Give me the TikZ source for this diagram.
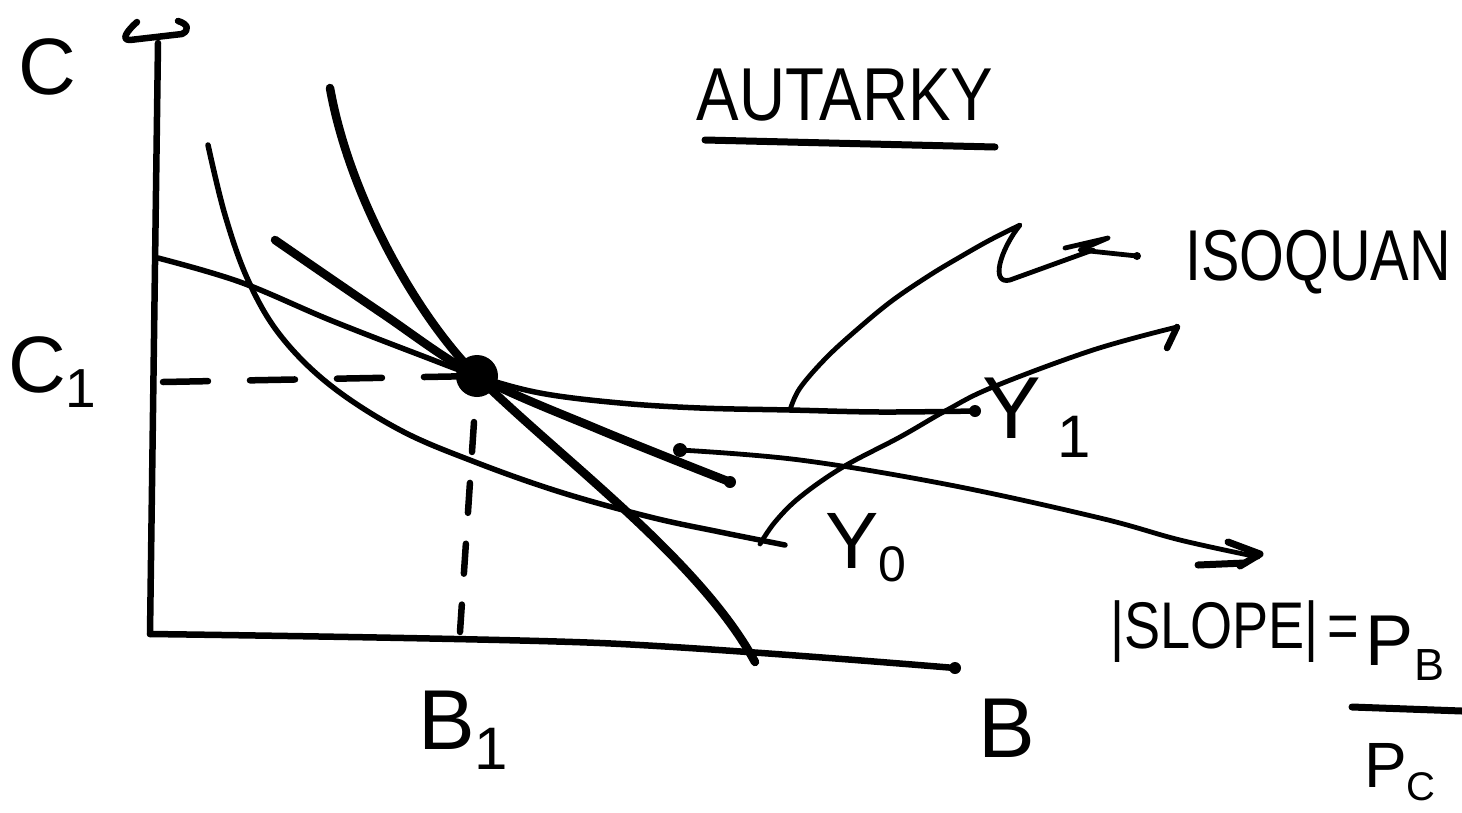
\documentclass[tikz,border=0pt]{standalone}
\usepackage{fontspec}
\setmainfont{Liberation Sans}
\begin{document}
\begin{tikzpicture}[x=1pt,y=-1pt,line cap=round,line join=round,
  axis/.style={line width=6.5pt},
  thincurve/.style={line width=5.5pt},
  thickcurve/.style={line width=8.5pt},
  pointer/.style={line width=4.8pt},
  dashline/.style={line width=6.5pt},
  lbl/.style={inner sep=0pt,font=\fontsize{80}{80}\selectfont}]
\useasboundingbox (0,0) rectangle (1462,812);

% key points
\coordinate (O) at (150,634);
\coordinate (Ctop) at (158,43);
\coordinate (Bend) at (955,668);
\coordinate (E) at (477,376);
\coordinate (Cdash) at (163,382);
\coordinate (Bdash) at (460,632);

% axes
\draw[axis] (O) -- (Ctop);
\draw[axis] (137,22) .. controls (128,30) and (120,40) .. (130,40) -- (182,34) .. controls (190,30) and (188,24) .. (178,21);
\draw[axis] plot[smooth] coordinates {(O) (600,643) (Bend)};
\fill (Bend) circle (6pt);

% dashed guides
\draw[dashline,dash pattern=on 45pt off 42pt] (Cdash) -- (E);
\draw[dashline,dash pattern=on 30pt off 31pt] (474,422) -- (Bdash);

% production possibility frontier
\draw[thickcurve] (330,88) .. controls (350,200) and (420,320) .. (E)
  .. controls (560,458) and (700,560) .. (755,662);

% isoquant Y0
\draw[thincurve] plot[smooth,tension=0.6] coordinates {(208,145) (225,215) (248,280) (280,335) (330,385) (400,430) (475,462) (560,492) (650,517) (720,532) (785,545)};

% isoquant Y1
\draw[thincurve] plot[smooth,tension=0.6] coordinates {(158,258) (240,282) (330,320) (420,355) (E) (540,393) (620,403) (700,408) (790,410) (880,412) (975,411)};
\fill (975,411) circle (6pt);

% price line (tangent)
\draw[thickcurve] plot[smooth,tension=0.6] coordinates {(275,240) (380,312) (E) (600,430) (730,482)};
\fill (730,482) circle (6pt);

% equilibrium point
\fill (E) circle (21pt);

% pointer from Y1 to label
\draw[pointer] plot[smooth,tension=0.6] coordinates {(790,410) (800,388) (827,357) (860,327) (893,300) (930,275) (960,257) (990,240) (1020,225)}
  .. controls (1000,250) and (990,285) .. (1010,280) -- (1093,250);
\draw[pointer] (1065,248) -- (1108,238) -- (1080,250) -- (1137,256);
\fill (1137,256) circle (4pt);

% pointer from Y0 to label
\draw[pointer] plot[smooth,tension=0.6] coordinates {(760,544) (775,522) (800,497) (843,467) (900,437) (947,410) (993,387) (1093,350) (1177,327)};
\draw[pointer,line width=6.5pt] (1177,327) -- (1167,348);

% pointer from price line to slope label
\fill (680,450) circle (7pt);
\draw[pointer] plot[smooth,tension=0.6] coordinates {(680,450) (800,460) (950,485) (1100,518) (1180,540) (1258,557)};
\draw[pointer,line width=7pt] (1228,542) -- (1260,554) -- (1240,566);
\draw[pointer,line width=7pt] (1198,565) -- (1245,563);

% labels
\node[lbl] (lC) at (47,67) {C};
\node[lbl,anchor=west] (lC1) at (8,372) {C\raisebox{-0.35ex}{\fontsize{55}{55}\selectfont 1}};
\node[lbl,font=\fontsize{85}{85}\selectfont,anchor=west] (lB1) at (418,730) {B\raisebox{-0.45ex}{\fontsize{60}{60}\selectfont 1}};
\node[lbl,font=\fontsize{85}{85}\selectfont] (lB) at (1007,728) {B};
\node[lbl,font=\fontsize{88}{88}\selectfont,anchor=west] (lY1) at (982,418) {Y\raisebox{-0.4ex}{\fontsize{60}{60}\selectfont\ 1}};
\node[lbl,anchor=west] (lY0) at (825,548) {Y\raisebox{-0.3ex}{\fontsize{50}{50}\selectfont 0}};

\node[lbl,font=\fontsize{75}{75}\selectfont,xscale=0.85] (title) at (845,95) {AUTARKY};
\draw[line width=7pt] (705,140) -- (995,147);

\node[lbl,font=\fontsize{72}{72}\selectfont,xscale=0.8,anchor=west] (iso) at (1185,262) {ISOQUAN};

\node[lbl,font=\fontsize{66}{66}\selectfont,xscale=0.82,anchor=west] (slope) at (1110,632) {|SLOPE|\,=};
\node[lbl,font=\fontsize{72}{72}\selectfont] (pb) at (1405,648) {P\raisebox{-0.4ex}{\fontsize{45}{45}\selectfont B}};
\draw[line width=7pt] (1352,707) -- (1462,711);
\node[lbl,font=\fontsize{64}{64}\selectfont] (pc) at (1400,772) {P\raisebox{-0.4ex}{\fontsize{40}{40}\selectfont C}};
\end{tikzpicture}
\end{document}
